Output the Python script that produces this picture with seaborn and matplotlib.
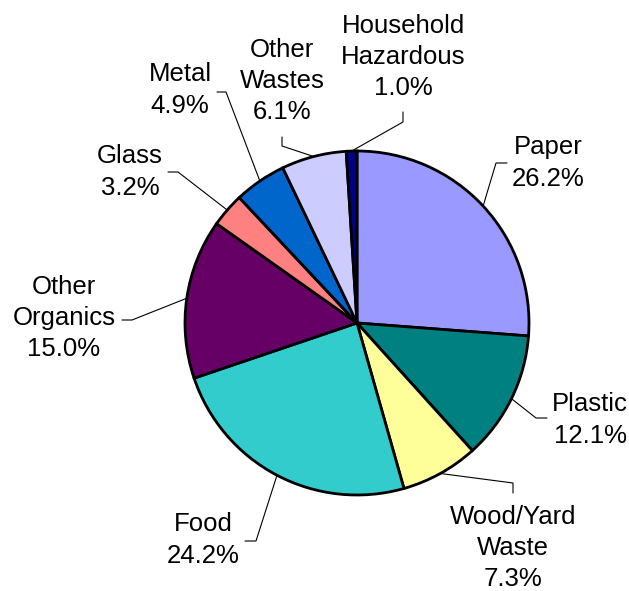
import numpy as np
import matplotlib
matplotlib.use("Agg")
import matplotlib.pyplot as plt
import seaborn as sns

sns.set_style("white")
plt.rcParams["font.family"] = ["Liberation Sans", "DejaVu Sans"]

# data
categories = ["Paper", "Plastic", "Wood/Yard\nWaste", "Food", "Other\nOrganics",
              "Glass", "Metal", "Other\nWastes", "Household\nHazardous"]
shares = [26.2, 12.1, 7.3, 24.2, 15.0, 3.2, 4.9, 6.1, 1.0]
colors = ["#9999FF", "#008080", "#FFFF99", "#33CCCC", "#660066",
          "#FF8080", "#0066CC", "#CCCCFF", "#000080"]

# layout (pixel coords, y from top): label centre, leader elbow, leader end
label_xy = [(548, 163), (590, 420), (513, 548), (203, 540), (64, 318),
            (130, 172), (180, 90), (282, 81), (403, 57)]
elbow_xy = [(496, 163), (536, 418), (513, 483), (256, 541), (132, 320),
            (178, 172), (226, 92), (282, 146), (403, 122)]
end_xy = [(507, 163), (547, 418), (513, 493), (245, 541), (122, 320),
          (168, 172), (217, 92), (282, 137), (403, 112)]

W, H = 629, 591
cx, cy, r = 357, 323, 172

fig = plt.figure(figsize=(W / 100, H / 100), dpi=100)
ax = fig.add_axes([0, 0, 1, 1])

wedges, _ = ax.pie(shares, colors=colors, startangle=90, counterclock=False,
                   center=(cx, H - cy), radius=r, frame=True,
                   wedgeprops=dict(edgecolor="black", linewidth=2))
ax.set_xlim(0, W)
ax.set_ylim(0, H)
ax.axis("off")

for w, name, val, lxy, exy, nxy in zip(wedges, categories, shares,
                                      label_xy, elbow_xy, end_xy):
    mid = np.deg2rad((w.theta1 + w.theta2) / 2)
    px, py = cx + r * np.cos(mid), (H - cy) + r * np.sin(mid)
    ax.plot([px, exy[0], nxy[0]], [py, H - exy[1], H - nxy[1]],
            color="black", lw=0.8, zorder=1)
    ax.text(lxy[0], H - lxy[1], f"{name}\n{val:.1f}%", ha="center", va="center",
            multialignment="center", fontsize=18.5, linespacing=1.38,
            color="black")

plt.savefig("out.png", dpi=100)
